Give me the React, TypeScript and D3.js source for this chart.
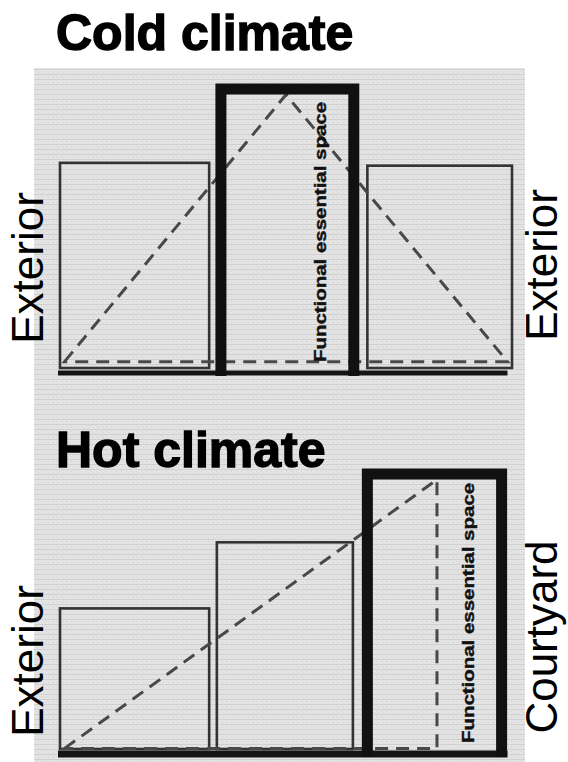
import * as d3 from 'd3';

// zone extents in diagram units (0-100 across, 0-100 up)
const coldTitle = 'Cold climate';
const coldZoneStart = [0, 35.6, 68];
const coldZoneEnd = [33, 65, 100];
const coldZoneHeight = [74, 100, 73];
const coldZoneCore = [false, true, false];
const coldProfileX = [1, 50, 99];
const coldProfileY = [4, 98, 4];
const coldSideLabels = ['Exterior', 'Exterior'];

const hotTitle = 'Hot climate';
const hotZoneStart = [0, 34.7, 68];
const hotZoneEnd = [33, 64.8, 97.7];
const hotZoneHeight = [52, 75.6, 100];
const hotZoneCore = [false, false, true];
const hotProfileX = [1, 83.4, 83.4];
const hotProfileY = [2, 98, 2];
const hotSideLabels = ['Exterior', 'Courtyard'];

const coreLabel = 'Functional essential space';

const W = 568;
const H = 762;

function Diagram({ title, titleY, starts, ends, heights, core, px, py, yRange, baseEnd, baseW }) {
    const x = d3.scaleLinear().domain([0, 100]).range([60, 512]);
    const y = d3.scaleLinear().domain([0, 100]).range(yRange);
    const y0 = y(0);
    const profile = d3.line()
        .x((d) => x(d[0]))
        .y((d) => y(d[1]))
        .curve(d3.curveLinearClosed)(px.map((v, i) => [v, py[i]]));

    return (
        <g>
            <text x={56} y={titleY} fontSize={50} fontWeight="bold"
                fontFamily="Liberation Sans, Arial, sans-serif" fill="#000"
                stroke="#000" strokeWidth={1.4}>{title}</text>
            {starts.map((s, i) => core[i] ? null : (
                <rect key={'b' + i} x={x(s)} y={y(heights[i])}
                    width={x(ends[i]) - x(s)} height={y0 - 5 - y(heights[i])}
                    fill="none" stroke="#333" strokeWidth={2.6} />
            ))}
            <path d={profile} fill="none" stroke="#484848" strokeWidth={3}
                strokeDasharray="13,8" />
            <line x1={x(0) - 2} x2={x(baseEnd)} y1={y0} y2={y0}
                stroke="#151515" strokeWidth={baseW} />
            {starts.map((s, i) => !core[i] ? null : (
                <g key={'c' + i}>
                    <path d={`M${x(s)},${y0 + 3}V${y(heights[i])}H${x(ends[i])}V${y0 + 3}`}
                        fill="none" stroke="#111" strokeWidth={11} strokeLinejoin="miter" />
                    <text transform={`translate(${x(ends[i]) - 28},${y0 - 11}) rotate(-90)`}
                        fontSize={17} fontWeight="bold" fill="#111" stroke="#111" strokeWidth={0.4}
                        fontFamily="Liberation Sans, Arial, sans-serif"
                        textLength={260} lengthAdjust="spacingAndGlyphs">{coreLabel}</text>
                </g>
            ))}
        </g>
    );
}

function SideLabel({ text, bx, cy }) {
    return (
        <text transform={`translate(${bx},${cy}) rotate(-90)`} textAnchor="middle"
            fontSize={44} fontFamily="Liberation Sans, Arial, sans-serif" fill="#000">{text}</text>
    );
}

export default function App() {
    return (
        <svg width={W} height={H} style={{ display: 'block', position: 'absolute', left: 0, top: 0 }}>
            <defs>
                <pattern id="dots" width={5} height={5} patternUnits="userSpaceOnUse">
                    <rect width={5} height={5} fill="#e4e4e4" />
                    <rect y={4} width={5} height={1} fill="#d0d0d0" />
                    <rect x={1} y={1} width={1} height={1} fill="#d4d4d4" />
                    <rect x={3} y={2} width={1} height={1} fill="#d4d4d4" />
                </pattern>
            </defs>
            <rect width={W} height={H} fill="#fff" />
            <rect x={34} y={68} width={491} height={H - 68} fill="url(#dots)" />
            <Diagram title={coldTitle} titleY={50} starts={coldZoneStart} ends={coldZoneEnd}
                heights={coldZoneHeight} core={coldZoneCore} px={coldProfileX} py={coldProfileY}
                yRange={[373, 89]} baseEnd={99} baseW={5} />
            <Diagram title={hotTitle} titleY={467} starts={hotZoneStart} ends={hotZoneEnd}
                heights={hotZoneHeight} core={hotZoneCore} px={hotProfileX} py={hotProfileY}
                yRange={[754, 474]} baseEnd={99} baseW={7} />
            <SideLabel text={coldSideLabels[0]} bx={43} cy={268} />
            <SideLabel text={coldSideLabels[1]} bx={557} cy={265} />
            <SideLabel text={hotSideLabels[0]} bx={43} cy={661} />
            <SideLabel text={hotSideLabels[1]} bx={557} cy={637} />
        </svg>
    );
}
